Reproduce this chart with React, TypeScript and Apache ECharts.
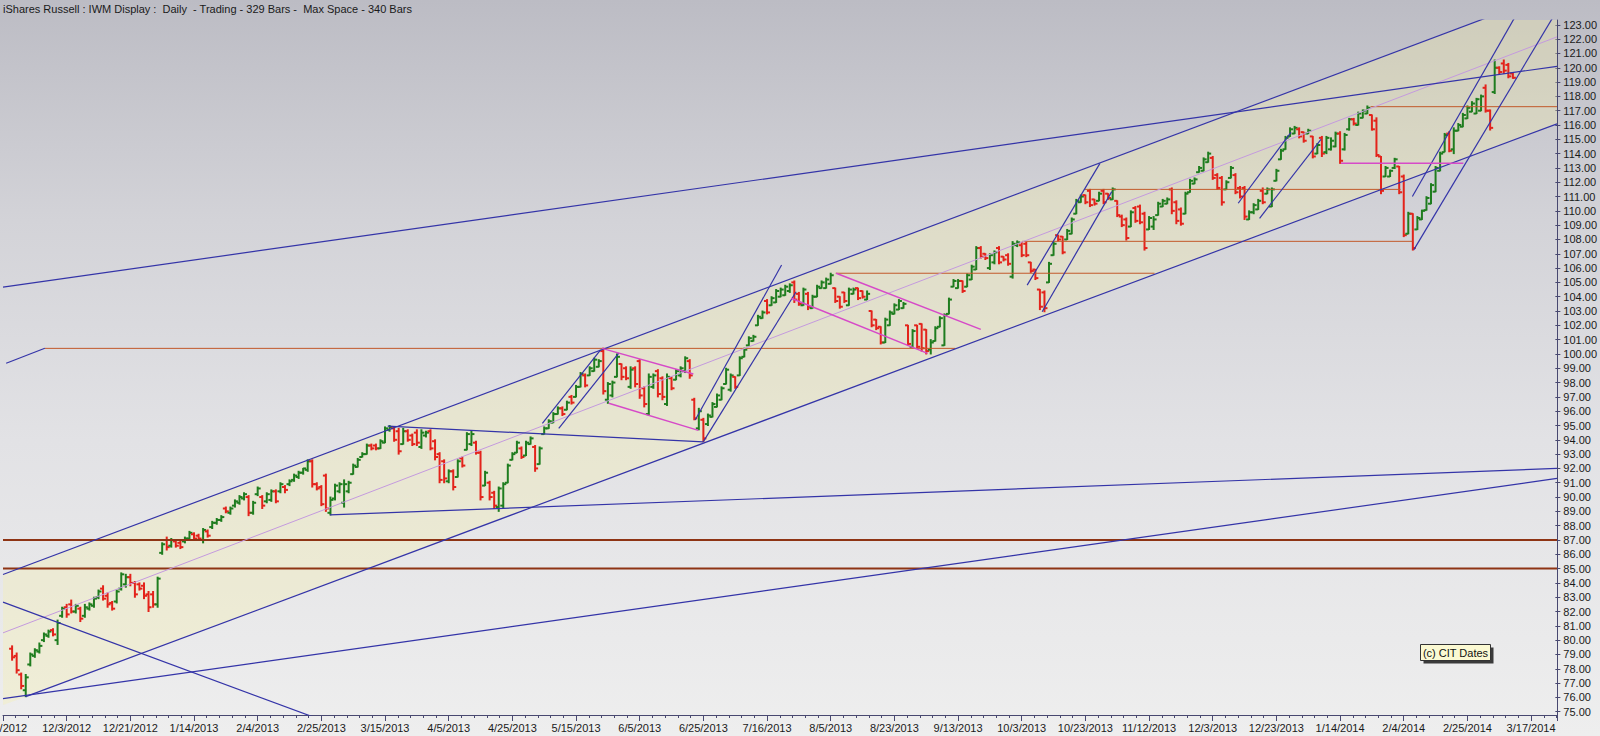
import React, { useEffect, useRef } from 'react';
import * as echarts from 'echarts';

const TITLE = 'iShares Russell : IWM Display :  Daily  - Trading - 329 Bars -  Max Space - 340 Bars';
const NOTE = '(c) CIT Dates';

// x-axis tick labels, one every 14 trading-day slots (slot 0 = 11/12/2012)
const dateLabels = [
  '11/12/2012', '12/3/2012', '12/21/2012', '1/14/2013', '2/4/2013', '2/25/2013', '3/15/2013',
  '4/5/2013', '4/25/2013', '5/15/2013', '6/5/2013', '6/25/2013', '7/16/2013', '8/5/2013',
  '8/23/2013', '9/13/2013', '10/3/2013', '10/23/2013', '11/12/2013', '12/3/2013', '12/23/2013',
  '1/14/2014', '2/4/2014', '2/25/2014', '3/17/2014',
];

const FIRST_SLOT = 2;
// [open, high, low, close]
const ohlc2012 = [
  [79.4,79.6,78.6,78.8],[78.9,79.1,77.7,77.9],[77.6,77.7,76.6,76.8],[76.5,77.6,76.05,77.4],
  [78.3,79.1,78.2,79.0],[78.9,79.4,78.8,79.3],[79.2,79.8,79.1,79.6],[80.0,80.5,79.9,80.4],
  [80.3,80.7,80.2,80.6],[80.7,80.8,80.3,80.4],[80.0,81.4,79.7,81.2],[81.7,82.3,81.6,82.2],
  [82.3,82.5,81.6,81.8],[82.5,82.8,81.9,82.0],[82.0,82.5,81.9,82.4],[82.2,82.3,81.3,81.5],
  [81.7,82.5,81.6,82.3],[82.2,82.6,82.1,82.5],[82.4,83.0,82.3,82.9],[83.0,83.5,82.9,83.4],
  [83.6,83.8,82.8,82.9],[83.1,83.3,82.3,82.5],[82.6,82.7,82.1,82.2],[82.7,83.5,82.6,83.4],
  [83.6,84.7,83.5,84.6],[83.9,84.6,83.7,84.4],[84.4,84.6,83.8,84.0],[84.0,84.1,83.0,83.2],
  [83.9,84.0,83.5,83.6],[83.8,84.0,82.9,83.1],[83.2,83.4,82.0,82.3],[83.2,83.4,82.3,82.5],
  [82.5,84.4,82.3,84.3],
];
const ohlcQ1_2013 = [
  [86.1,86.8,86.0,86.7],[87.0,87.2,86.3,86.5],[86.6,87.1,86.5,87.0],[86.9,87.0,86.5,86.6],
  [86.8,86.9,86.4,86.5],[86.9,87.2,86.8,87.1],[87.1,87.6,87.0,87.5],[87.4,87.5,87.0,87.1],
  [87.3,87.4,87.0,87.1],[87.0,87.8,86.8,87.7],[87.6,87.7,87.2,87.3],[87.9,88.3,87.8,88.2],
  [88.2,88.5,88.1,88.4],[88.4,88.7,88.3,88.6],[89.2,89.3,88.9,89.0],[88.9,89.3,88.8,89.2],
  [89.4,89.8,89.3,89.7],[89.6,90.1,89.5,90.0],[89.9,90.3,89.8,90.2],[90.0,90.1,88.7,88.9],
  [88.9,89.7,88.8,89.6],[90.2,90.7,90.1,90.6],[90.0,90.1,89.2,89.4],[89.7,90.3,89.6,90.2],
  [89.8,90.5,89.7,90.4],[90.4,90.5,89.6,89.7],[90.4,91.0,90.3,90.9],[90.7,90.8,90.3,90.5],
  [90.9,91.2,90.8,91.1],[91.2,91.6,91.1,91.5],[91.4,91.8,91.3,91.7],[91.7,92.0,91.6,92.0],
  [91.9,92.6,91.8,92.5],[92.5,92.6,90.7,90.9],[90.9,91.0,90.5,90.6],[90.7,90.8,89.4,89.5],
  [91.5,91.6,89.0,89.2],[88.9,90.0,88.75,89.8],[89.9,90.9,89.8,90.8],[90.4,91.0,90.3,90.9],
  [89.6,91.2,89.3,90.9],[90.4,91.1,90.3,91.0],[91.6,92.3,91.6,92.2],[92.1,92.7,92.1,92.6],
  [92.8,93.1,92.8,93.0],[93.0,93.7,93.0,93.6],[93.6,93.7,93.3,93.4],[93.6,93.7,93.3,93.4],
  [93.4,94.0,93.4,93.9],[93.8,94.9,93.8,94.8],[94.7,95.0,94.6,94.9],[94.8,94.9,93.9,94.0],
  [94.6,94.8,93.0,93.2],[93.7,94.8,93.7,94.6],[94.6,94.7,93.9,94.0],[94.3,94.4,93.6,93.7],
  [94.5,94.7,93.6,93.8],[93.5,94.7,93.4,94.5],[94.3,94.6,94.2,94.5],[94.6,94.7,93.3,93.4],
  [93.9,94.0,92.6,92.8],[93.0,93.1,91.0,91.2],[92.5,92.6,91.0,91.3],[91.1,91.9,91.0,91.8],
  [91.8,91.9,90.5,90.7],[91.4,92.6,91.4,92.5],
];
const ohlcQ2_2013 = [
  [92.7,92.8,92.1,92.2],[93.3,94.5,93.3,94.4],[93.7,94.6,93.6,94.4],[93.8,93.9,93.0,93.1],
  [93.1,93.2,89.8,90.0],[90.8,91.8,90.8,91.7],[91.0,91.1,89.8,90.0],[90.3,90.4,89.2,89.4],
  [89.3,90.7,89.0,90.6],[89.4,91.0,89.2,90.9],[91.0,92.3,91.0,92.2],[92.6,93.1,92.6,93.0],
  [93.1,93.9,93.1,93.8],[93.4,93.5,92.7,92.8],[92.9,93.9,92.9,93.8],[93.7,94.2,93.7,94.1],
  [93.5,93.6,91.8,92.0],[92.3,93.5,92.3,93.4],[94.4,94.9,94.4,94.8],[94.8,95.4,94.8,95.3],
  [95.2,95.9,95.2,95.8],[95.8,96.3,95.8,96.2],[96.2,96.3,95.7,95.8],[96.1,96.7,96.1,96.6],
  [97.0,97.1,96.5,96.6],[97.0,97.8,97.0,97.7],[97.7,98.7,97.7,98.6],[98.5,98.6,97.7,97.8],
  [98.5,99.1,98.5,99.0],[98.8,99.7,98.8,99.6],[99.1,99.6,99.1,99.5],[100.2,100.4,97.2,97.4],
  [96.8,98.0,96.55,97.9],[97.1,98.1,97.0,98.0],[98.4,100.0,98.4,99.8],[99.3,99.3,98.2,98.4],
  [99.0,99.1,98.2,98.3],[97.7,99.1,97.6,98.9],[99.0,99.1,97.7,97.9],[99.5,99.6,96.9,97.1],
  [97.6,97.7,96.3,96.5],[95.8,98.6,95.7,98.4],[97.7,98.6,97.6,98.5],[98.8,98.9,97.0,97.2],
  [98.3,98.4,96.8,97.0],[96.5,98.6,96.4,98.4],[98.3,98.4,97.5,97.6],[98.2,98.9,98.2,98.8],
  [98.5,99.1,98.4,99.0],[98.8,99.8,98.7,99.7],[99.5,99.6,98.3,98.5],[96.8,96.9,95.4,95.5],
  [94.8,96.2,94.7,96.0],[95.4,95.5,93.87,94.1],
];
const ohlcQ3_2013 = [
  [95.1,95.8,95.0,95.7],[95.6,96.6,95.6,96.5],[96.3,97.2,96.3,97.1],[96.8,97.7,96.8,97.6],
  [97.9,99.0,97.9,98.9],[97.5,98.6,97.4,98.5],[98.4,98.4,97.6,97.7],[98.5,99.8,98.5,99.7],
  [99.8,100.4,99.8,100.3],[100.6,101.2,100.6,101.1],[100.9,101.3,100.9,101.2],[102.0,102.7,102.0,102.6],
  [102.5,103.0,102.5,102.9],[103.7,103.8,102.8,102.9],[103.4,104.0,103.4,103.9],[103.6,104.5,103.6,104.4],
  [104.0,104.6,104.0,104.5],[104.1,104.8,104.1,104.7],[104.4,104.9,104.3,104.8],[105.0,105.1,103.6,103.8],
  [104.2,104.3,103.4,103.5],[103.4,104.6,103.4,104.5],[104.2,104.3,103.1,103.3],[103.2,104.1,103.2,104.0],
  [104.0,104.8,104.0,104.7],[104.6,105.1,104.6,105.0],[104.6,105.3,104.6,105.2],[104.9,105.64,104.9,105.5],
  [104.6,104.6,103.6,103.7],[104.0,104.0,103.2,103.3],[104.3,104.3,103.6,103.7],[103.4,104.6,103.4,104.5],
  [104.2,104.6,104.2,104.5],[104.6,104.6,103.8,103.9],[104.4,104.4,103.9,104.0],[103.8,104.4,103.8,104.2],
  [103.0,103.0,101.9,102.0],[102.4,102.4,101.7,101.8],[101.9,101.9,100.7,100.8],[100.8,102.5,100.8,102.4],
  [102.0,103.0,102.0,102.9],[102.8,103.5,102.8,103.4],[103.1,103.8,103.1,103.7],[103.2,103.6,103.2,103.5],
  [102.0,102.0,100.6,100.7],[100.5,101.7,100.5,101.6],[102.0,102.0,100.4,100.5],[102.1,102.1,100.2,100.4],
  [101.7,101.7,100.0,100.2],[100.3,101.0,100.0,100.8],[100.9,101.9,100.9,101.8],[101.9,102.6,101.9,102.5],
  [100.6,102.8,100.6,102.7],[102.8,103.9,102.8,103.8],[104.7,105.2,104.7,105.1],[104.6,105.2,104.6,105.1],
  [105.1,105.1,104.3,104.4],[104.7,105.6,104.7,105.5],[105.2,106.2,105.2,106.1],[105.9,107.5,105.9,107.4],
];
const ohlcQ4_2013 = [
  [107.4,107.5,106.7,106.8],[107.0,107.0,106.6,106.7],[106.0,107.0,105.9,106.9],[106.4,107.2,106.3,107.1],
  [107.4,107.5,106.3,106.4],[106.8,106.8,106.5,106.6],[106.9,107.0,106.2,106.3],[105.4,107.85,105.3,107.7],
  [107.6,107.9,107.5,107.8],[107.6,107.8,106.8,106.9],[107.7,107.8,106.8,106.9],[106.4,106.4,105.7,105.8],
  [105.9,105.9,105.2,105.3],[104.5,104.5,103.1,103.3],[104.3,104.4,102.95,103.2],[105.0,106.4,105.0,106.3],
  [106.9,107.8,106.9,107.7],[108.3,108.3,107.9,108.0],[108.2,108.2,107.0,107.1],[108.0,108.7,108.0,108.6],
  [108.4,109.5,108.4,109.4],[109.8,110.8,109.8,110.7],[110.6,111.1,110.6,111.0],[111.1,111.1,110.5,110.6],
  [111.4,111.5,110.3,110.4],[110.8,110.8,110.4,110.5],[110.7,111.3,110.7,111.2],[111.4,111.5,110.5,110.6],
  [111.2,111.2,110.8,110.9],[110.8,111.6,110.8,111.5],[110.7,110.7,109.6,109.7],[109.6,109.7,108.9,109.0],
  [109.4,109.5,107.96,108.1],[108.9,110.0,108.9,109.9],[110.2,110.3,109.2,109.3],[110.3,110.4,109.1,109.2],
  [109.8,109.9,107.26,107.4],[108.7,109.6,108.7,109.5],[108.9,109.6,108.7,109.4],[109.7,110.6,109.7,110.5],
  [110.3,110.8,110.3,110.7],[110.5,110.9,110.5,110.8],[111.5,111.6,109.8,110.0],[110.6,110.7,109.1,109.3],
  [110.1,110.2,109.0,109.1],[109.8,111.3,109.8,111.2],[111.3,112.2,111.3,112.1],[111.9,112.3,111.9,112.2],
  [112.7,113.1,112.7,113.0],[112.8,113.7,112.8,113.6],[113.4,114.1,113.4,114.0],[113.7,113.8,112.2,112.3],
  [112.5,112.6,111.5,111.6],[112.3,112.4,110.4,110.6],[111.5,112.1,111.5,112.0],[112.3,113.1,112.3,113.0],
  [112.5,112.6,111.2,111.3],[111.6,111.7,110.9,111.0],[111.6,111.7,109.4,109.6],[109.4,110.0,109.4,109.9],
  [109.9,110.5,109.8,110.4],[110.1,110.8,110.1,110.7],[111.4,111.6,110.5,110.6],[111.2,111.6,111.2,111.5],
  [110.3,111.6,110.3,111.5],[112.1,112.9,112.1,112.8],[113.6,114.3,113.6,114.2],[114.3,115.2,114.3,115.1],
  [115.2,115.8,115.2,115.7],[115.4,115.9,115.4,115.8],[115.7,115.8,115.1,115.2],[115.5,115.5,114.8,114.9],
  [115.4,115.7,115.4,115.6],[115.2,115.2,113.7,113.8],[114.0,114.7,114.0,114.6],
];
const ohlc2014 = [
  [115.1,115.2,113.8,114.0],[114.1,115.2,114.0,115.1],[114.3,115.1,114.25,114.9],[114.5,115.5,114.48,115.4],
  [115.4,115.53,113.32,113.5],[114.3,115.41,114.25,115.3],[115.7,116.46,115.64,116.4],[116.4,116.46,116.0,116.1],
  [116.0,116.9,116.0,116.8],[116.5,117.05,116.5,117.0],[116.8,117.33,116.8,117.2],[116.7,116.7,115.64,115.7],
  [116.3,116.5,113.8,113.9],[113.8,113.8,111.2,111.4],[112.4,113.1,112.4,113.0],[112.4,112.85,112.4,112.8],
  [113.0,113.67,112.96,113.6],[113.1,113.1,111.2,111.3],[112.4,112.5,108.2,108.3],[108.4,109.9,108.4,109.8],
  [109.8,109.8,107.26,107.4],[108.7,109.6,108.7,109.5],[109.4,110.05,109.4,110.0],[110.05,110.99,110.05,110.9],
  [110.5,111.9,110.5,111.8],[111.34,113.1,111.34,113.0],[112.8,114.1,112.8,114.0],[114.1,115.41,114.13,115.3],
  [115.4,115.53,114.13,114.2],[114.3,115.8,114.0,115.6],[115.6,116.1,115.6,116.0],[115.88,116.81,115.88,116.7],
  [116.46,117.33,116.46,117.2],[116.93,117.63,116.93,117.5],[116.8,117.86,116.8,117.8],[117.0,118.09,117.0,118.0],
  [118.6,118.8,116.9,117.0],[117.0,117.05,115.65,115.8],[118.3,120.54,118.2,120.0],[120.0,120.07,119.6,119.7],
  [120.3,120.54,119.6,119.8],[120.2,120.3,119.3,119.4],[119.6,119.61,119.26,119.3],
];

// trend lines: [slot, price] end points
const upperChannel = [[0, 84.59], [341.7, 125.34]];
const lowerChannel = [[5, 76.05], [341.7, 116.08]];
const lowerFillStart = [0, 75.46];
const midLine = [[0, 80.51], [341.7, 122.16]];
const topLongLine = [[0, 104.67], [341.7, 120.1]];
const bottomLongLine = [[0, 75.91], [341.7, 91.3]];
const descendingLine = [[0, 82.66], [70, 74.42]];
const leftStub = [[0.7, 99.35], [9.2, 100.4]];
const springTopLine = [[84.6, 94.95], [154, 93.85]];
const necklineLine = [[71.9, 88.75], [341.7, 92.0]];
const mayRallyA = [[118.6, 95.15], [131.4, 100.28]];
const mayRallyB = [[122.2, 94.8], [135.4, 100.05]];
const julyRallyC = [[152.2, 95.38], [171.2, 106.22]];
const julyRallyD = [[154, 93.87], [174.4, 104.35]];
const octRallyE = [[225.2, 104.81], [241.2, 113.32]];
const octRallyF = [[228.5, 102.95], [243.8, 111.34]];
const decRallyG = [[271.6, 110.53], [283.2, 115.49]];
const decRallyH = [[276.3, 109.48], [289.8, 115.0]];
const febRallyI = [[309.9, 111.0], [334, 124.4]];
const febRallyJ = [[310.2, 107.27], [341.7, 124.0]];

const level87 = [[0, 87], [341.7, 87]];
const level85 = [[0, 85], [341.7, 85]];
const level100 = [[9.2, 100.39], [209.4, 100.39]];
const level105 = [[183.1, 105.64], [253.2, 105.64]];
const level108 = [[224.1, 107.87], [309.9, 107.87]];
const level111 = [[237.9, 111.5], [307.3, 111.5]];
const level117 = [[300.7, 117.28], [341.7, 117.28]];

const mayBoxTop = [[131.7, 100.39], [151.8, 98.6]];
const mayBoxBottom = [[133.2, 96.55], [152.9, 94.66]];
const augBoxTop = [[183.2, 105.64], [215.0, 101.72]];
const augBoxBottom = [[173.3, 103.89], [203.3, 100.04]];
const janLevel = [[294.2, 113.32], [321.1, 113.32]];

const GREEN = '#1f7d1f';
const RED = '#e3231b';
const BLUE = '#3434a8';
const ORANGE = '#c2592a';
const ORANGE_DARK = '#8e3414';
const MAGENTA = '#d64ac8';
const LILAC = '#c49ade';
const FONT = "'Liberation Sans', Arial, sans-serif";

export default function App() {
  const ref = useRef<HTMLDivElement>(null);
  useEffect(() => {
    const chart = echarts.init(ref.current as HTMLDivElement, null, { renderer: 'svg' });
    const allBars = [...ohlc2012, ...ohlcQ1_2013, ...ohlcQ2_2013, ...ohlcQ3_2013, ...ohlcQ4_2013, ...ohlc2014]
      .map((b, i) => [FIRST_SLOT + i, b[0], b[1], b[2], b[3]]);

    const seg = (data: number[][], color: string, width: number, z = 4) => ({
      type: 'line', xAxisIndex: 0, yAxisIndex: 0, data, symbol: 'none', silent: true,
      lineStyle: { color, width }, z, clip: true,
    });

    const option: any = {
      animation: false,
      backgroundColor: 'transparent',
      grid: [
        { left: -3.2, right: 43, top: 20, bottom: 21 },
        { left: -3.2, right: 43, top: 24.82, bottom: 24.3 },
      ],
      xAxis: [
        {
          type: 'value', gridIndex: 0, min: 0, max: 341.7, interval: 14, position: 'bottom',
          axisLine: { show: true, onZero: false, lineStyle: { color: '#484870', width: 1 } },
          axisTick: { show: true, length: 6, lineStyle: { color: '#484870' } },
          minorTick: { show: true, splitNumber: 5, length: 3, lineStyle: { color: '#484870' } },
          splitLine: { show: false },
          axisLabel: {
            margin: 7, fontSize: 11, fontFamily: FONT, color: '#1a1a1a',
            formatter: (v: number) => {
              const k = Math.round(v / 14);
              return k > 0 && Math.abs(v / 14 - k) < 1e-6 ? dateLabels[k] || '' : '';
            },
          },
        },
        { type: 'value', gridIndex: 1, min: 0, max: 1, show: false },
      ],
      yAxis: [
        {
          type: 'value', gridIndex: 0, min: 74.769, max: 123.337, position: 'right',
          axisLine: { show: true, onZero: false, lineStyle: { color: '#484870', width: 1 } },
          axisTick: { show: false }, axisLabel: { show: false }, splitLine: { show: false },
        },
        {
          type: 'value', gridIndex: 1, min: 75, max: 123, interval: 1, position: 'right',
          axisLine: { show: false, onZero: false },
          axisTick: { show: true, length: 5, lineStyle: { color: '#484870' } },
          splitLine: { show: false },
          axisLabel: { margin: 8, fontSize: 11, fontFamily: FONT, color: '#1a1a1a', formatter: (v: number) => v.toFixed(2) },
        },
      ],
      graphic: [
        { type: 'text', left: 3, top: 3, style: { text: TITLE, font: `11px ${FONT}`, fill: '#1a1a1a' } },
        {
          type: 'text', x: 0, y: 722,
          style: { text: dateLabels[0], font: `11px ${FONT}`, fill: '#1a1a1a', align: 'center', verticalAlign: 'top' },
        },
        {
          type: 'group', left: 1420, top: 644,
          children: [
            { type: 'rect', shape: { x: 3, y: 3, width: 70, height: 16 }, style: { fill: '#3a3a3a' } },
            { type: 'rect', shape: { x: 0, y: 0, width: 70, height: 16 }, style: { fill: '#fbf9d2', stroke: '#333', lineWidth: 1 } },
            { type: 'text', x: 35, y: 8, style: { text: NOTE, font: `11px ${FONT}`, fill: '#111', align: 'center', verticalAlign: 'middle' } },
          ],
        },
      ],
      series: [
        {
          type: 'custom', xAxisIndex: 0, yAxisIndex: 0, data: [[0, 100]], clip: true, silent: true, z: 1,
          renderItem: (_p: any, api: any) => {
            const pts = [
              api.coord(upperChannel[0]), api.coord(upperChannel[1]),
              api.coord(lowerChannel[1]), api.coord(lowerChannel[0]), api.coord(lowerFillStart),
            ];
            return { type: 'polygon', shape: { points: pts }, style: { fill: 'rgba(246,240,168,0.32)' } };
          },
        },
        seg(level87, ORANGE_DARK, 2),
        seg(level85, ORANGE_DARK, 2),
        seg(level100, ORANGE, 1),
        seg(level105, ORANGE, 1),
        seg(level108, ORANGE, 1),
        seg(level111, ORANGE, 1),
        seg(level117, ORANGE, 1),
        seg(midLine, LILAC, 1),
        seg(upperChannel, BLUE, 1.2),
        seg(lowerChannel, BLUE, 1.2),
        seg(topLongLine, BLUE, 1.2),
        seg(bottomLongLine, BLUE, 1.2),
        seg(descendingLine, BLUE, 1.2),
        seg(leftStub, BLUE, 1.2),
        seg(springTopLine, BLUE, 1.2),
        seg(necklineLine, BLUE, 1.2),
        seg(mayRallyA, BLUE, 1.2),
        seg(mayRallyB, BLUE, 1.2),
        seg(julyRallyC, BLUE, 1.2),
        seg(julyRallyD, BLUE, 1.2),
        seg(octRallyE, BLUE, 1.2),
        seg(octRallyF, BLUE, 1.2),
        seg(decRallyG, BLUE, 1.2),
        seg(decRallyH, BLUE, 1.2),
        seg(febRallyI, BLUE, 1.2),
        seg(febRallyJ, BLUE, 1.2),
        seg(mayBoxTop, MAGENTA, 1.5),
        seg(mayBoxBottom, MAGENTA, 1.5),
        seg(augBoxTop, MAGENTA, 1.5),
        seg(augBoxBottom, MAGENTA, 1.5),
        seg(janLevel, MAGENTA, 1.5),
        {
          type: 'custom', xAxisIndex: 0, yAxisIndex: 0, data: allBars, clip: true, silent: true, z: 3,
          encode: { x: 0, y: [1, 2, 3, 4] },
          renderItem: (_p: any, api: any) => {
            const s = api.value(0), o = api.value(1), h = api.value(2), l = api.value(3), c = api.value(4);
            const top = api.coord([s, h]);
            const bot = api.coord([s, l]);
            const po = api.coord([s, o]);
            const pc = api.coord([s, c]);
            const st = { stroke: c >= o ? GREEN : RED, lineWidth: 2 };
            return {
              type: 'group',
              children: [
                { type: 'line', shape: { x1: top[0], y1: top[1] - 0.5, x2: bot[0], y2: bot[1] + 0.5 }, style: st },
                { type: 'line', shape: { x1: po[0] - 3, y1: po[1], x2: po[0], y2: po[1] }, style: st },
                { type: 'line', shape: { x1: pc[0], y1: pc[1], x2: pc[0] + 3, y2: pc[1] }, style: st },
              ],
            };
          },
        },
      ],
    };
    chart.setOption(option);
    return () => chart.dispose();
  }, []);
  return (
    <div
      ref={ref}
      style={{
        position: 'absolute', left: 0, top: 0, width: 1600, height: 736,
        background: 'linear-gradient(to bottom, #bcbcc4 0%, #d3d3d8 30%, #e2e2e5 60%, #eeeeee 100%)',
      }}
    />
  );
}
